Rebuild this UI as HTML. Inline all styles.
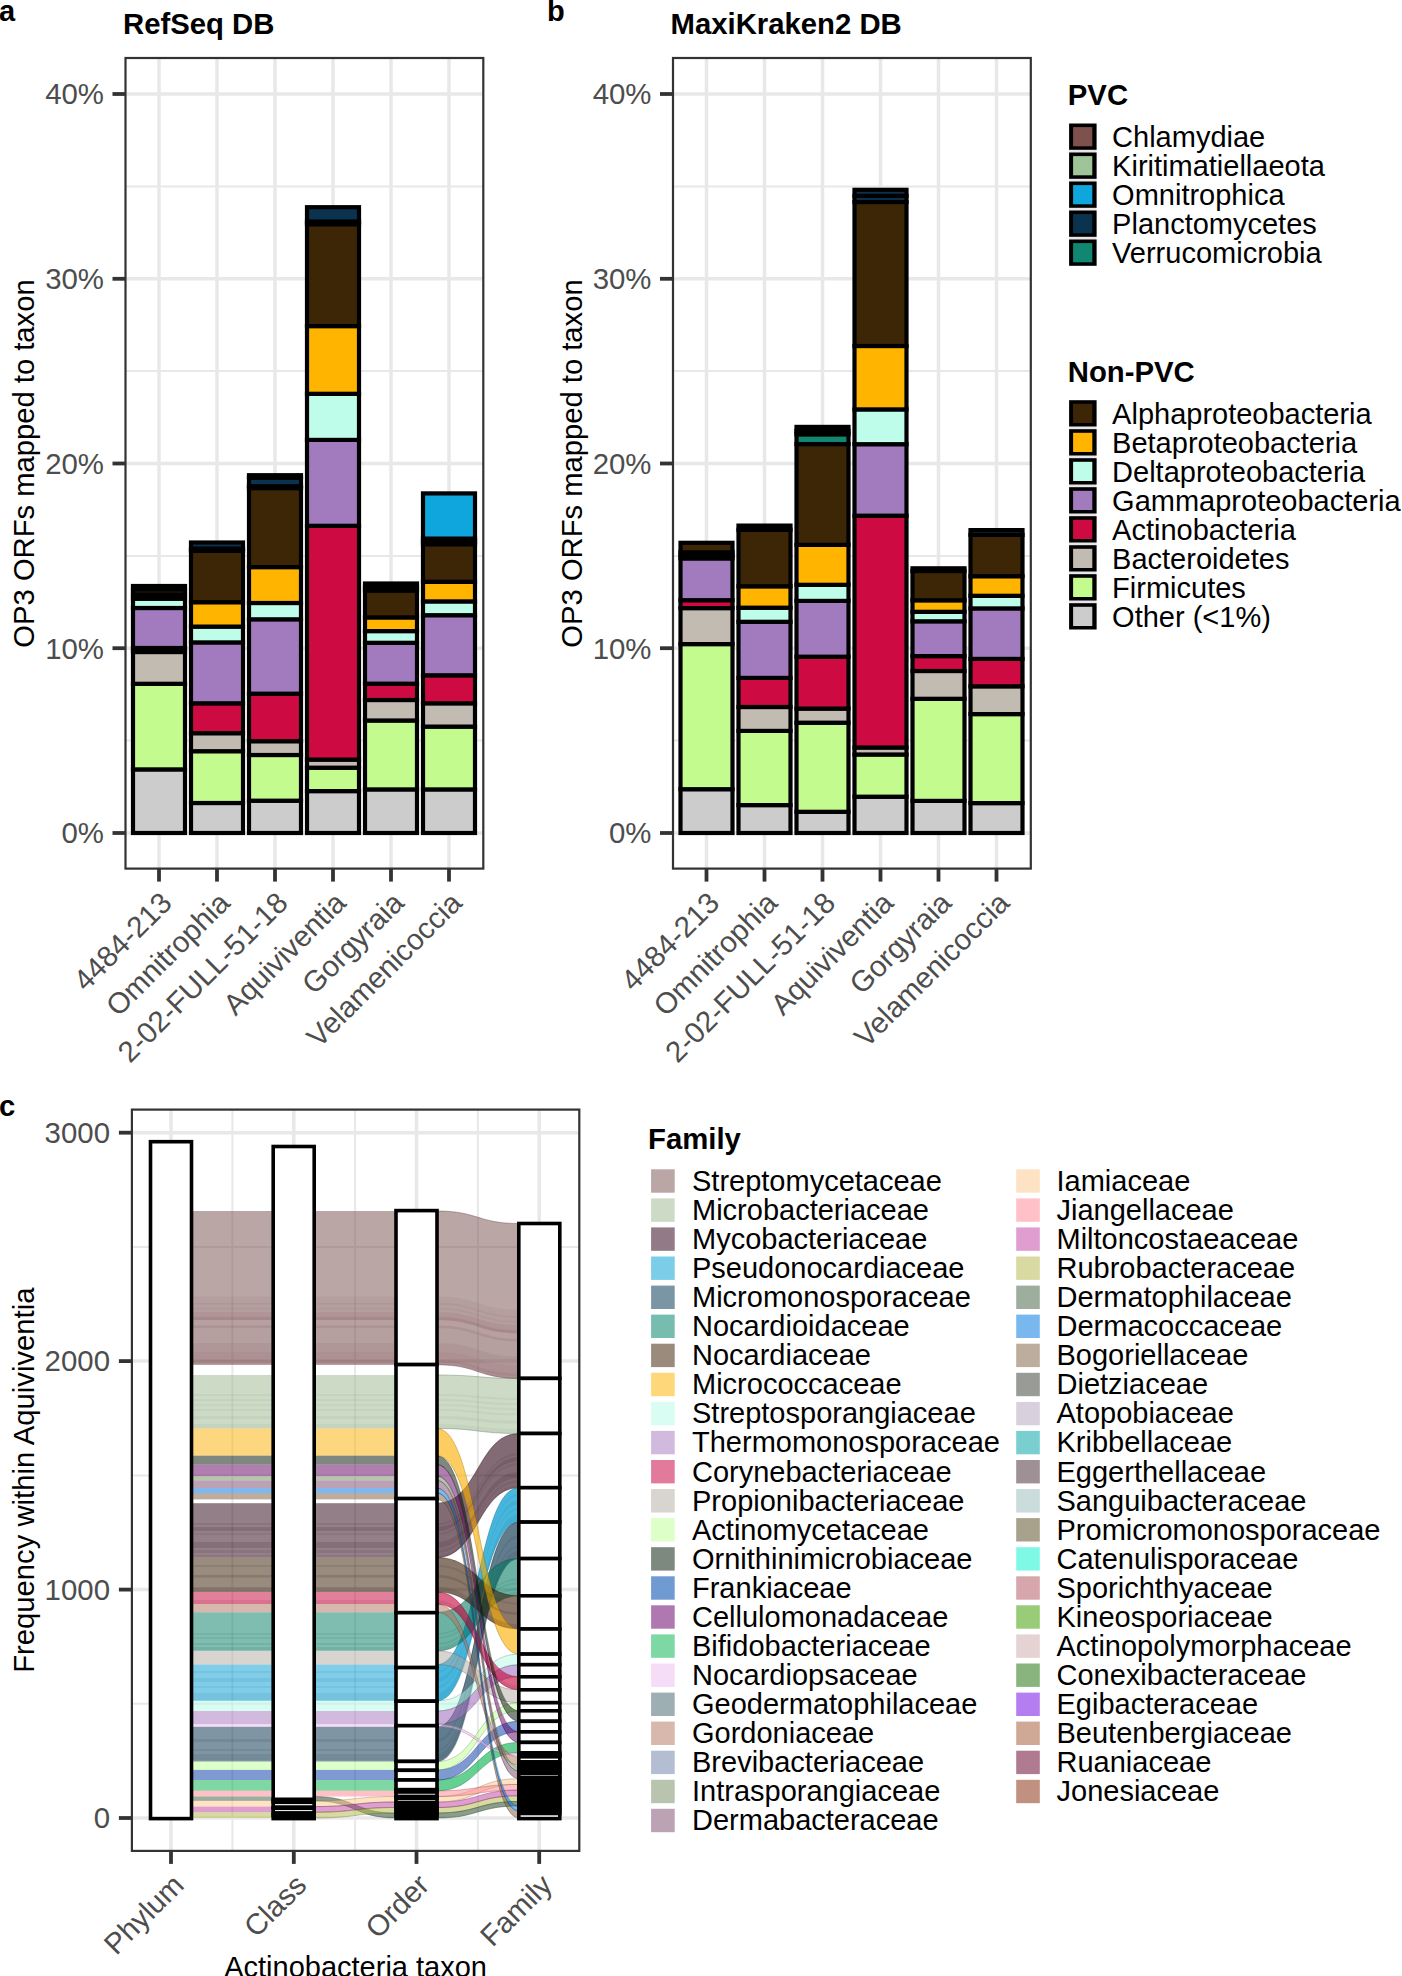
<!DOCTYPE html><html><head><meta charset="utf-8"><style>html,body{margin:0;padding:0;background:#fff;}svg{display:block}text{font-family:"Liberation Sans", sans-serif;}</style></head><body>
<svg width="1402" height="1976" viewBox="0 0 1402 1976">
<rect x="0" y="0" width="1402" height="1976" fill="#fff"/>
<g>
<line x1="125.5" y1="740.6" x2="483.3" y2="740.6" stroke="#E8E8E8" stroke-width="2"/>
<line x1="125.5" y1="555.9" x2="483.3" y2="555.9" stroke="#E8E8E8" stroke-width="2"/>
<line x1="125.5" y1="371.1" x2="483.3" y2="371.1" stroke="#E8E8E8" stroke-width="2"/>
<line x1="125.5" y1="186.4" x2="483.3" y2="186.4" stroke="#E8E8E8" stroke-width="2"/>
<line x1="125.5" y1="833.0" x2="483.3" y2="833.0" stroke="#E8E8E8" stroke-width="3.5"/>
<line x1="125.5" y1="648.2" x2="483.3" y2="648.2" stroke="#E8E8E8" stroke-width="3.5"/>
<line x1="125.5" y1="463.5" x2="483.3" y2="463.5" stroke="#E8E8E8" stroke-width="3.5"/>
<line x1="125.5" y1="278.8" x2="483.3" y2="278.8" stroke="#E8E8E8" stroke-width="3.5"/>
<line x1="125.5" y1="94.0" x2="483.3" y2="94.0" stroke="#E8E8E8" stroke-width="3.5"/>
<line x1="159.0" y1="58.0" x2="159.0" y2="868.6" stroke="#E8E8E8" stroke-width="3.5"/>
<line x1="217.0" y1="58.0" x2="217.0" y2="868.6" stroke="#E8E8E8" stroke-width="3.5"/>
<line x1="275.0" y1="58.0" x2="275.0" y2="868.6" stroke="#E8E8E8" stroke-width="3.5"/>
<line x1="333.0" y1="58.0" x2="333.0" y2="868.6" stroke="#E8E8E8" stroke-width="3.5"/>
<line x1="391.0" y1="58.0" x2="391.0" y2="868.6" stroke="#E8E8E8" stroke-width="3.5"/>
<line x1="449.0" y1="58.0" x2="449.0" y2="868.6" stroke="#E8E8E8" stroke-width="3.5"/>
</g>
<rect x="133.0" y="769.40" width="52" height="63.60" fill="#CCCCCC" stroke="#000" stroke-width="4.2"/>
<rect x="133.0" y="683.80" width="52" height="85.60" fill="#C4FB8E" stroke="#000" stroke-width="4.2"/>
<rect x="133.0" y="652.00" width="52" height="31.80" fill="#C2BBB2" stroke="#000" stroke-width="4.2"/>
<rect x="133.0" y="648.00" width="52" height="4.00" fill="#CD0A41" stroke="#000" stroke-width="4.2"/>
<rect x="133.0" y="608.00" width="52" height="40.00" fill="#A27BBF" stroke="#000" stroke-width="4.2"/>
<rect x="133.0" y="598.70" width="52" height="9.30" fill="#BEFDEA" stroke="#000" stroke-width="4.2"/>
<rect x="133.0" y="594.50" width="52" height="4.20" fill="#FFB400" stroke="#000" stroke-width="4.2"/>
<rect x="133.0" y="589.30" width="52" height="5.20" fill="#3D2606" stroke="#000" stroke-width="4.2"/>
<rect x="133.0" y="586.00" width="52" height="3.30" fill="#0B3350" stroke="#000" stroke-width="4.2"/>
<rect x="191.0" y="803.00" width="52" height="30.00" fill="#CCCCCC" stroke="#000" stroke-width="4.2"/>
<rect x="191.0" y="751.20" width="52" height="51.80" fill="#C4FB8E" stroke="#000" stroke-width="4.2"/>
<rect x="191.0" y="733.20" width="52" height="18.00" fill="#C2BBB2" stroke="#000" stroke-width="4.2"/>
<rect x="191.0" y="703.30" width="52" height="29.90" fill="#CD0A41" stroke="#000" stroke-width="4.2"/>
<rect x="191.0" y="642.40" width="52" height="60.90" fill="#A27BBF" stroke="#000" stroke-width="4.2"/>
<rect x="191.0" y="626.60" width="52" height="15.80" fill="#BEFDEA" stroke="#000" stroke-width="4.2"/>
<rect x="191.0" y="602.20" width="52" height="24.40" fill="#FFB400" stroke="#000" stroke-width="4.2"/>
<rect x="191.0" y="550.80" width="52" height="51.40" fill="#3D2606" stroke="#000" stroke-width="4.2"/>
<rect x="191.0" y="548.50" width="52" height="2.30" fill="#118670" stroke="#000" stroke-width="4.2"/>
<rect x="191.0" y="542.50" width="52" height="6.00" fill="#0B3350" stroke="#000" stroke-width="4.2"/>
<rect x="249.0" y="800.70" width="52" height="32.30" fill="#CCCCCC" stroke="#000" stroke-width="4.2"/>
<rect x="249.0" y="755.00" width="52" height="45.70" fill="#C4FB8E" stroke="#000" stroke-width="4.2"/>
<rect x="249.0" y="741.20" width="52" height="13.80" fill="#C2BBB2" stroke="#000" stroke-width="4.2"/>
<rect x="249.0" y="693.70" width="52" height="47.50" fill="#CD0A41" stroke="#000" stroke-width="4.2"/>
<rect x="249.0" y="619.30" width="52" height="74.40" fill="#A27BBF" stroke="#000" stroke-width="4.2"/>
<rect x="249.0" y="603.00" width="52" height="16.30" fill="#BEFDEA" stroke="#000" stroke-width="4.2"/>
<rect x="249.0" y="567.10" width="52" height="35.90" fill="#FFB400" stroke="#000" stroke-width="4.2"/>
<rect x="249.0" y="488.10" width="52" height="79.00" fill="#3D2606" stroke="#000" stroke-width="4.2"/>
<rect x="249.0" y="486.20" width="52" height="1.90" fill="#118670" stroke="#000" stroke-width="4.2"/>
<rect x="249.0" y="477.60" width="52" height="8.60" fill="#0B3350" stroke="#000" stroke-width="4.2"/>
<rect x="249.0" y="475.20" width="52" height="2.40" fill="#7E504E" stroke="#000" stroke-width="4.2"/>
<rect x="307.0" y="791.10" width="52" height="41.90" fill="#CCCCCC" stroke="#000" stroke-width="4.2"/>
<rect x="307.0" y="767.70" width="52" height="23.40" fill="#C4FB8E" stroke="#000" stroke-width="4.2"/>
<rect x="307.0" y="759.60" width="52" height="8.10" fill="#C2BBB2" stroke="#000" stroke-width="4.2"/>
<rect x="307.0" y="525.80" width="52" height="233.80" fill="#CD0A41" stroke="#000" stroke-width="4.2"/>
<rect x="307.0" y="439.90" width="52" height="85.90" fill="#A27BBF" stroke="#000" stroke-width="4.2"/>
<rect x="307.0" y="393.80" width="52" height="46.10" fill="#BEFDEA" stroke="#000" stroke-width="4.2"/>
<rect x="307.0" y="326.10" width="52" height="67.70" fill="#FFB400" stroke="#000" stroke-width="4.2"/>
<rect x="307.0" y="224.20" width="52" height="101.90" fill="#3D2606" stroke="#000" stroke-width="4.2"/>
<rect x="307.0" y="221.50" width="52" height="2.70" fill="#118670" stroke="#000" stroke-width="4.2"/>
<rect x="307.0" y="207.20" width="52" height="14.30" fill="#0B3350" stroke="#000" stroke-width="4.2"/>
<rect x="365.0" y="789.40" width="52" height="43.60" fill="#CCCCCC" stroke="#000" stroke-width="4.2"/>
<rect x="365.0" y="720.50" width="52" height="68.90" fill="#C4FB8E" stroke="#000" stroke-width="4.2"/>
<rect x="365.0" y="700.00" width="52" height="20.50" fill="#C2BBB2" stroke="#000" stroke-width="4.2"/>
<rect x="365.0" y="683.70" width="52" height="16.30" fill="#CD0A41" stroke="#000" stroke-width="4.2"/>
<rect x="365.0" y="642.80" width="52" height="40.90" fill="#A27BBF" stroke="#000" stroke-width="4.2"/>
<rect x="365.0" y="631.10" width="52" height="11.70" fill="#BEFDEA" stroke="#000" stroke-width="4.2"/>
<rect x="365.0" y="617.40" width="52" height="13.70" fill="#FFB400" stroke="#000" stroke-width="4.2"/>
<rect x="365.0" y="590.50" width="52" height="26.90" fill="#3D2606" stroke="#000" stroke-width="4.2"/>
<rect x="365.0" y="587.00" width="52" height="3.50" fill="#118670" stroke="#000" stroke-width="4.2"/>
<rect x="365.0" y="583.50" width="52" height="3.50" fill="#0B3350" stroke="#000" stroke-width="4.2"/>
<rect x="423.0" y="789.40" width="52" height="43.60" fill="#CCCCCC" stroke="#000" stroke-width="4.2"/>
<rect x="423.0" y="726.60" width="52" height="62.80" fill="#C4FB8E" stroke="#000" stroke-width="4.2"/>
<rect x="423.0" y="703.30" width="52" height="23.30" fill="#C2BBB2" stroke="#000" stroke-width="4.2"/>
<rect x="423.0" y="675.30" width="52" height="28.00" fill="#CD0A41" stroke="#000" stroke-width="4.2"/>
<rect x="423.0" y="615.20" width="52" height="60.10" fill="#A27BBF" stroke="#000" stroke-width="4.2"/>
<rect x="423.0" y="601.40" width="52" height="13.80" fill="#BEFDEA" stroke="#000" stroke-width="4.2"/>
<rect x="423.0" y="581.80" width="52" height="19.60" fill="#FFB400" stroke="#000" stroke-width="4.2"/>
<rect x="423.0" y="544.20" width="52" height="37.60" fill="#3D2606" stroke="#000" stroke-width="4.2"/>
<rect x="423.0" y="541.40" width="52" height="2.80" fill="#0B3350" stroke="#000" stroke-width="4.2"/>
<rect x="423.0" y="538.60" width="52" height="2.80" fill="#118670" stroke="#000" stroke-width="4.2"/>
<rect x="423.0" y="493.40" width="52" height="45.20" fill="#0EA6DD" stroke="#000" stroke-width="4.2"/>
<rect x="125.5" y="58.0" width="357.8" height="810.6" fill="none" stroke="#333333" stroke-width="2.2"/>
<line x1="112.5" y1="833.0" x2="125.5" y2="833.0" stroke="#333333" stroke-width="3.8"/>
<text x="104.0" y="843.3" font-size="29.4" fill="#4D4D4D" text-anchor="end">0%</text>
<line x1="112.5" y1="648.2" x2="125.5" y2="648.2" stroke="#333333" stroke-width="3.8"/>
<text x="104.0" y="658.5" font-size="29.4" fill="#4D4D4D" text-anchor="end">10%</text>
<line x1="112.5" y1="463.5" x2="125.5" y2="463.5" stroke="#333333" stroke-width="3.8"/>
<text x="104.0" y="473.8" font-size="29.4" fill="#4D4D4D" text-anchor="end">20%</text>
<line x1="112.5" y1="278.8" x2="125.5" y2="278.8" stroke="#333333" stroke-width="3.8"/>
<text x="104.0" y="289.1" font-size="29.4" fill="#4D4D4D" text-anchor="end">30%</text>
<line x1="112.5" y1="94.0" x2="125.5" y2="94.0" stroke="#333333" stroke-width="3.8"/>
<text x="104.0" y="104.3" font-size="29.4" fill="#4D4D4D" text-anchor="end">40%</text>
<line x1="159.0" y1="868.6" x2="159.0" y2="881.6" stroke="#333333" stroke-width="3.8"/>
<text transform="translate(173.5,904.6) rotate(-45)" font-size="29.4" fill="#4D4D4D" text-anchor="end">4484-213</text>
<line x1="217.0" y1="868.6" x2="217.0" y2="881.6" stroke="#333333" stroke-width="3.8"/>
<text transform="translate(231.5,904.6) rotate(-45)" font-size="29.4" fill="#4D4D4D" text-anchor="end">Omnitrophia</text>
<line x1="275.0" y1="868.6" x2="275.0" y2="881.6" stroke="#333333" stroke-width="3.8"/>
<text transform="translate(289.5,904.6) rotate(-45)" font-size="29.4" fill="#4D4D4D" text-anchor="end">2-02-FULL-51-18</text>
<line x1="333.0" y1="868.6" x2="333.0" y2="881.6" stroke="#333333" stroke-width="3.8"/>
<text transform="translate(347.5,904.6) rotate(-45)" font-size="29.4" fill="#4D4D4D" text-anchor="end">Aquiviventia</text>
<line x1="391.0" y1="868.6" x2="391.0" y2="881.6" stroke="#333333" stroke-width="3.8"/>
<text transform="translate(405.5,904.6) rotate(-45)" font-size="29.4" fill="#4D4D4D" text-anchor="end">Gorgyraia</text>
<line x1="449.0" y1="868.6" x2="449.0" y2="881.6" stroke="#333333" stroke-width="3.8"/>
<text transform="translate(463.5,904.6) rotate(-45)" font-size="29.4" fill="#4D4D4D" text-anchor="end">Velamenicoccia</text>
<text transform="translate(34,463.5) rotate(-90)" font-size="29.2" fill="#000" text-anchor="middle">OP3 ORFs mapped to taxon</text>
<text x="123" y="34" font-size="29.3" font-weight="bold" fill="#000">RefSeq DB</text>
<text x="-1" y="21" font-size="29" font-weight="bold" fill="#000">a</text>
<g>
<line x1="673.0" y1="740.6" x2="1030.8" y2="740.6" stroke="#E8E8E8" stroke-width="2"/>
<line x1="673.0" y1="555.9" x2="1030.8" y2="555.9" stroke="#E8E8E8" stroke-width="2"/>
<line x1="673.0" y1="371.1" x2="1030.8" y2="371.1" stroke="#E8E8E8" stroke-width="2"/>
<line x1="673.0" y1="186.4" x2="1030.8" y2="186.4" stroke="#E8E8E8" stroke-width="2"/>
<line x1="673.0" y1="833.0" x2="1030.8" y2="833.0" stroke="#E8E8E8" stroke-width="3.5"/>
<line x1="673.0" y1="648.2" x2="1030.8" y2="648.2" stroke="#E8E8E8" stroke-width="3.5"/>
<line x1="673.0" y1="463.5" x2="1030.8" y2="463.5" stroke="#E8E8E8" stroke-width="3.5"/>
<line x1="673.0" y1="278.8" x2="1030.8" y2="278.8" stroke="#E8E8E8" stroke-width="3.5"/>
<line x1="673.0" y1="94.0" x2="1030.8" y2="94.0" stroke="#E8E8E8" stroke-width="3.5"/>
<line x1="706.5" y1="58.0" x2="706.5" y2="868.6" stroke="#E8E8E8" stroke-width="3.5"/>
<line x1="764.5" y1="58.0" x2="764.5" y2="868.6" stroke="#E8E8E8" stroke-width="3.5"/>
<line x1="822.5" y1="58.0" x2="822.5" y2="868.6" stroke="#E8E8E8" stroke-width="3.5"/>
<line x1="880.5" y1="58.0" x2="880.5" y2="868.6" stroke="#E8E8E8" stroke-width="3.5"/>
<line x1="938.5" y1="58.0" x2="938.5" y2="868.6" stroke="#E8E8E8" stroke-width="3.5"/>
<line x1="996.5" y1="58.0" x2="996.5" y2="868.6" stroke="#E8E8E8" stroke-width="3.5"/>
</g>
<rect x="680.5" y="789.20" width="52" height="43.80" fill="#CCCCCC" stroke="#000" stroke-width="4.2"/>
<rect x="680.5" y="644.10" width="52" height="145.10" fill="#C4FB8E" stroke="#000" stroke-width="4.2"/>
<rect x="680.5" y="608.10" width="52" height="36.00" fill="#C2BBB2" stroke="#000" stroke-width="4.2"/>
<rect x="680.5" y="600.20" width="52" height="7.90" fill="#CD0A41" stroke="#000" stroke-width="4.2"/>
<rect x="680.5" y="558.40" width="52" height="41.80" fill="#A27BBF" stroke="#000" stroke-width="4.2"/>
<rect x="680.5" y="555.50" width="52" height="2.90" fill="#BEFDEA" stroke="#000" stroke-width="4.2"/>
<rect x="680.5" y="552.30" width="52" height="3.20" fill="#FFB400" stroke="#000" stroke-width="4.2"/>
<rect x="680.5" y="542.80" width="52" height="9.50" fill="#3D2606" stroke="#000" stroke-width="4.2"/>
<rect x="738.5" y="805.10" width="52" height="27.90" fill="#CCCCCC" stroke="#000" stroke-width="4.2"/>
<rect x="738.5" y="730.90" width="52" height="74.20" fill="#C4FB8E" stroke="#000" stroke-width="4.2"/>
<rect x="738.5" y="707.00" width="52" height="23.90" fill="#C2BBB2" stroke="#000" stroke-width="4.2"/>
<rect x="738.5" y="677.90" width="52" height="29.10" fill="#CD0A41" stroke="#000" stroke-width="4.2"/>
<rect x="738.5" y="621.80" width="52" height="56.10" fill="#A27BBF" stroke="#000" stroke-width="4.2"/>
<rect x="738.5" y="607.70" width="52" height="14.10" fill="#BEFDEA" stroke="#000" stroke-width="4.2"/>
<rect x="738.5" y="586.30" width="52" height="21.40" fill="#FFB400" stroke="#000" stroke-width="4.2"/>
<rect x="738.5" y="529.70" width="52" height="56.60" fill="#3D2606" stroke="#000" stroke-width="4.2"/>
<rect x="738.5" y="525.60" width="52" height="4.10" fill="#0B3350" stroke="#000" stroke-width="4.2"/>
<rect x="796.5" y="811.80" width="52" height="21.20" fill="#CCCCCC" stroke="#000" stroke-width="4.2"/>
<rect x="796.5" y="722.70" width="52" height="89.10" fill="#C4FB8E" stroke="#000" stroke-width="4.2"/>
<rect x="796.5" y="708.60" width="52" height="14.10" fill="#C2BBB2" stroke="#000" stroke-width="4.2"/>
<rect x="796.5" y="656.70" width="52" height="51.90" fill="#CD0A41" stroke="#000" stroke-width="4.2"/>
<rect x="796.5" y="600.90" width="52" height="55.80" fill="#A27BBF" stroke="#000" stroke-width="4.2"/>
<rect x="796.5" y="584.80" width="52" height="16.10" fill="#BEFDEA" stroke="#000" stroke-width="4.2"/>
<rect x="796.5" y="544.90" width="52" height="39.90" fill="#FFB400" stroke="#000" stroke-width="4.2"/>
<rect x="796.5" y="444.10" width="52" height="100.80" fill="#3D2606" stroke="#000" stroke-width="4.2"/>
<rect x="796.5" y="434.30" width="52" height="9.80" fill="#118670" stroke="#000" stroke-width="4.2"/>
<rect x="796.5" y="431.00" width="52" height="3.30" fill="#9FC497" stroke="#000" stroke-width="4.2"/>
<rect x="796.5" y="426.90" width="52" height="4.10" fill="#0B3350" stroke="#000" stroke-width="4.2"/>
<rect x="854.5" y="796.70" width="52" height="36.30" fill="#CCCCCC" stroke="#000" stroke-width="4.2"/>
<rect x="854.5" y="754.50" width="52" height="42.20" fill="#C4FB8E" stroke="#000" stroke-width="4.2"/>
<rect x="854.5" y="747.50" width="52" height="7.00" fill="#C2BBB2" stroke="#000" stroke-width="4.2"/>
<rect x="854.5" y="515.70" width="52" height="231.80" fill="#CD0A41" stroke="#000" stroke-width="4.2"/>
<rect x="854.5" y="444.20" width="52" height="71.50" fill="#A27BBF" stroke="#000" stroke-width="4.2"/>
<rect x="854.5" y="409.40" width="52" height="34.80" fill="#BEFDEA" stroke="#000" stroke-width="4.2"/>
<rect x="854.5" y="346.00" width="52" height="63.40" fill="#FFB400" stroke="#000" stroke-width="4.2"/>
<rect x="854.5" y="202.00" width="52" height="144.00" fill="#3D2606" stroke="#000" stroke-width="4.2"/>
<rect x="854.5" y="195.80" width="52" height="6.20" fill="#0B3350" stroke="#000" stroke-width="4.2"/>
<rect x="854.5" y="189.80" width="52" height="6.00" fill="#0B3350" stroke="#000" stroke-width="4.2"/>
<rect x="912.5" y="800.90" width="52" height="32.10" fill="#CCCCCC" stroke="#000" stroke-width="4.2"/>
<rect x="912.5" y="698.80" width="52" height="102.10" fill="#C4FB8E" stroke="#000" stroke-width="4.2"/>
<rect x="912.5" y="671.00" width="52" height="27.80" fill="#C2BBB2" stroke="#000" stroke-width="4.2"/>
<rect x="912.5" y="656.10" width="52" height="14.90" fill="#CD0A41" stroke="#000" stroke-width="4.2"/>
<rect x="912.5" y="621.30" width="52" height="34.80" fill="#A27BBF" stroke="#000" stroke-width="4.2"/>
<rect x="912.5" y="611.80" width="52" height="9.50" fill="#BEFDEA" stroke="#000" stroke-width="4.2"/>
<rect x="912.5" y="600.30" width="52" height="11.50" fill="#FFB400" stroke="#000" stroke-width="4.2"/>
<rect x="912.5" y="571.00" width="52" height="29.30" fill="#3D2606" stroke="#000" stroke-width="4.2"/>
<rect x="912.5" y="568.30" width="52" height="2.70" fill="#0B3350" stroke="#000" stroke-width="4.2"/>
<rect x="970.5" y="803.10" width="52" height="29.90" fill="#CCCCCC" stroke="#000" stroke-width="4.2"/>
<rect x="970.5" y="714.10" width="52" height="89.00" fill="#C4FB8E" stroke="#000" stroke-width="4.2"/>
<rect x="970.5" y="686.30" width="52" height="27.80" fill="#C2BBB2" stroke="#000" stroke-width="4.2"/>
<rect x="970.5" y="658.90" width="52" height="27.40" fill="#CD0A41" stroke="#000" stroke-width="4.2"/>
<rect x="970.5" y="608.40" width="52" height="50.50" fill="#A27BBF" stroke="#000" stroke-width="4.2"/>
<rect x="970.5" y="595.80" width="52" height="12.60" fill="#BEFDEA" stroke="#000" stroke-width="4.2"/>
<rect x="970.5" y="576.20" width="52" height="19.60" fill="#FFB400" stroke="#000" stroke-width="4.2"/>
<rect x="970.5" y="534.90" width="52" height="41.30" fill="#3D2606" stroke="#000" stroke-width="4.2"/>
<rect x="970.5" y="530.10" width="52" height="4.80" fill="#0B3350" stroke="#000" stroke-width="4.2"/>
<rect x="673.0" y="58.0" width="357.8" height="810.6" fill="none" stroke="#333333" stroke-width="2.2"/>
<line x1="660.0" y1="833.0" x2="673.0" y2="833.0" stroke="#333333" stroke-width="3.8"/>
<text x="651.5" y="843.3" font-size="29.4" fill="#4D4D4D" text-anchor="end">0%</text>
<line x1="660.0" y1="648.2" x2="673.0" y2="648.2" stroke="#333333" stroke-width="3.8"/>
<text x="651.5" y="658.5" font-size="29.4" fill="#4D4D4D" text-anchor="end">10%</text>
<line x1="660.0" y1="463.5" x2="673.0" y2="463.5" stroke="#333333" stroke-width="3.8"/>
<text x="651.5" y="473.8" font-size="29.4" fill="#4D4D4D" text-anchor="end">20%</text>
<line x1="660.0" y1="278.8" x2="673.0" y2="278.8" stroke="#333333" stroke-width="3.8"/>
<text x="651.5" y="289.1" font-size="29.4" fill="#4D4D4D" text-anchor="end">30%</text>
<line x1="660.0" y1="94.0" x2="673.0" y2="94.0" stroke="#333333" stroke-width="3.8"/>
<text x="651.5" y="104.3" font-size="29.4" fill="#4D4D4D" text-anchor="end">40%</text>
<line x1="706.5" y1="868.6" x2="706.5" y2="881.6" stroke="#333333" stroke-width="3.8"/>
<text transform="translate(721.0,904.6) rotate(-45)" font-size="29.4" fill="#4D4D4D" text-anchor="end">4484-213</text>
<line x1="764.5" y1="868.6" x2="764.5" y2="881.6" stroke="#333333" stroke-width="3.8"/>
<text transform="translate(779.0,904.6) rotate(-45)" font-size="29.4" fill="#4D4D4D" text-anchor="end">Omnitrophia</text>
<line x1="822.5" y1="868.6" x2="822.5" y2="881.6" stroke="#333333" stroke-width="3.8"/>
<text transform="translate(837.0,904.6) rotate(-45)" font-size="29.4" fill="#4D4D4D" text-anchor="end">2-02-FULL-51-18</text>
<line x1="880.5" y1="868.6" x2="880.5" y2="881.6" stroke="#333333" stroke-width="3.8"/>
<text transform="translate(895.0,904.6) rotate(-45)" font-size="29.4" fill="#4D4D4D" text-anchor="end">Aquiviventia</text>
<line x1="938.5" y1="868.6" x2="938.5" y2="881.6" stroke="#333333" stroke-width="3.8"/>
<text transform="translate(953.0,904.6) rotate(-45)" font-size="29.4" fill="#4D4D4D" text-anchor="end">Gorgyraia</text>
<line x1="996.5" y1="868.6" x2="996.5" y2="881.6" stroke="#333333" stroke-width="3.8"/>
<text transform="translate(1011.0,904.6) rotate(-45)" font-size="29.4" fill="#4D4D4D" text-anchor="end">Velamenicoccia</text>
<text transform="translate(581.5,463.5) rotate(-90)" font-size="29.2" fill="#000" text-anchor="middle">OP3 ORFs mapped to taxon</text>
<text x="670.5" y="34" font-size="29.3" font-weight="bold" fill="#000">MaxiKraken2 DB</text>
<text x="547" y="21" font-size="29" font-weight="bold" fill="#000">b</text>
<text x="1067.8" y="105" font-size="29.3" font-weight="bold" fill="#000">PVC</text>
<rect x="1069.1" y="149.5" width="27.4" height="116.0" fill="#E6E6E6"/>
<rect x="1069.1" y="123.5" width="27.5" height="26.3" fill="#000"/>
<rect x="1073.1" y="127.1" width="19.2" height="19.2" fill="#7E504E"/>
<text x="1112.1" y="147.0" font-size="29" fill="#000">Chlamydiae</text>
<rect x="1069.1" y="152.5" width="27.5" height="26.3" fill="#000"/>
<rect x="1073.1" y="156.1" width="19.2" height="19.2" fill="#9FC497"/>
<text x="1112.1" y="176.0" font-size="29" fill="#000">Kiritimatiellaeota</text>
<rect x="1069.1" y="181.5" width="27.5" height="26.3" fill="#000"/>
<rect x="1073.1" y="185.1" width="19.2" height="19.2" fill="#0EA6DD"/>
<text x="1112.1" y="205.0" font-size="29" fill="#000">Omnitrophica</text>
<rect x="1069.1" y="210.5" width="27.5" height="26.3" fill="#000"/>
<rect x="1073.1" y="214.1" width="19.2" height="19.2" fill="#0B3350"/>
<text x="1112.1" y="234.0" font-size="29" fill="#000">Planctomycetes</text>
<rect x="1069.1" y="239.5" width="27.5" height="26.3" fill="#000"/>
<rect x="1073.1" y="243.1" width="19.2" height="19.2" fill="#118670"/>
<text x="1112.1" y="263.0" font-size="29" fill="#000">Verrucomicrobia</text>
<text x="1067.8" y="382" font-size="29.3" font-weight="bold" fill="#000">Non-PVC</text>
<rect x="1069.1" y="426.2" width="27.4" height="203.0" fill="#E6E6E6"/>
<rect x="1069.1" y="400.2" width="27.5" height="26.3" fill="#000"/>
<rect x="1073.1" y="403.8" width="19.2" height="19.2" fill="#3D2606"/>
<text x="1112.1" y="423.7" font-size="29" fill="#000">Alphaproteobacteria</text>
<rect x="1069.1" y="429.2" width="27.5" height="26.3" fill="#000"/>
<rect x="1073.1" y="432.8" width="19.2" height="19.2" fill="#FFB400"/>
<text x="1112.1" y="452.7" font-size="29" fill="#000">Betaproteobacteria</text>
<rect x="1069.1" y="458.2" width="27.5" height="26.3" fill="#000"/>
<rect x="1073.1" y="461.8" width="19.2" height="19.2" fill="#BEFDEA"/>
<text x="1112.1" y="481.7" font-size="29" fill="#000">Deltaproteobacteria</text>
<rect x="1069.1" y="487.2" width="27.5" height="26.3" fill="#000"/>
<rect x="1073.1" y="490.8" width="19.2" height="19.2" fill="#A27BBF"/>
<text x="1112.1" y="510.7" font-size="29" fill="#000">Gammaproteobacteria</text>
<rect x="1069.1" y="516.2" width="27.5" height="26.3" fill="#000"/>
<rect x="1073.1" y="519.8" width="19.2" height="19.2" fill="#CD0A41"/>
<text x="1112.1" y="539.7" font-size="29" fill="#000">Actinobacteria</text>
<rect x="1069.1" y="545.2" width="27.5" height="26.3" fill="#000"/>
<rect x="1073.1" y="548.8" width="19.2" height="19.2" fill="#C2BBB2"/>
<text x="1112.1" y="568.7" font-size="29" fill="#000">Bacteroidetes</text>
<rect x="1069.1" y="574.2" width="27.5" height="26.3" fill="#000"/>
<rect x="1073.1" y="577.8" width="19.2" height="19.2" fill="#C4FB8E"/>
<text x="1112.1" y="597.7" font-size="29" fill="#000">Firmicutes</text>
<rect x="1069.1" y="603.2" width="27.5" height="26.3" fill="#000"/>
<rect x="1073.1" y="606.8" width="19.2" height="19.2" fill="#CCCCCC"/>
<text x="1112.1" y="626.7" font-size="29" fill="#000">Other (&lt;1%)</text>
<line x1="131.9" y1="1703.8" x2="579.3" y2="1703.8" stroke="#E8E8E8" stroke-width="2"/>
<line x1="131.9" y1="1475.4" x2="579.3" y2="1475.4" stroke="#E8E8E8" stroke-width="2"/>
<line x1="131.9" y1="1246.9" x2="579.3" y2="1246.9" stroke="#E8E8E8" stroke-width="2"/>
<line x1="232.4" y1="1109.6" x2="232.4" y2="1850.9" stroke="#E8E8E8" stroke-width="2"/>
<line x1="355.1" y1="1109.6" x2="355.1" y2="1850.9" stroke="#E8E8E8" stroke-width="2"/>
<line x1="477.9" y1="1109.6" x2="477.9" y2="1850.9" stroke="#E8E8E8" stroke-width="2"/>
<line x1="131.9" y1="1818.0" x2="579.3" y2="1818.0" stroke="#E8E8E8" stroke-width="3.5"/>
<line x1="131.9" y1="1589.6" x2="579.3" y2="1589.6" stroke="#E8E8E8" stroke-width="3.5"/>
<line x1="131.9" y1="1361.1" x2="579.3" y2="1361.1" stroke="#E8E8E8" stroke-width="3.5"/>
<line x1="131.9" y1="1132.7" x2="579.3" y2="1132.7" stroke="#E8E8E8" stroke-width="3.5"/>
<line x1="171.0" y1="1109.6" x2="171.0" y2="1850.9" stroke="#E8E8E8" stroke-width="3.5"/>
<line x1="293.8" y1="1109.6" x2="293.8" y2="1850.9" stroke="#E8E8E8" stroke-width="3.5"/>
<line x1="416.5" y1="1109.6" x2="416.5" y2="1850.9" stroke="#E8E8E8" stroke-width="3.5"/>
<line x1="539.2" y1="1109.6" x2="539.2" y2="1850.9" stroke="#E8E8E8" stroke-width="3.5"/>
<g>
<rect x="191.5" y="1211.0" width="81.8" height="153.8" fill="#754D4B" fill-opacity="0.5"/>
<rect x="314.2" y="1211.0" width="81.8" height="153.8" fill="#754D4B" fill-opacity="0.5"/>
<rect x="191.5" y="1375.0" width="81.8" height="53.5" fill="#9BB78D" fill-opacity="0.5"/>
<rect x="314.2" y="1375.0" width="81.8" height="53.5" fill="#9BB78D" fill-opacity="0.5"/>
<rect x="191.5" y="1428.5" width="81.8" height="27.2" fill="#FBAF00" fill-opacity="0.5"/>
<rect x="314.2" y="1428.5" width="81.8" height="27.2" fill="#FBAF00" fill-opacity="0.5"/>
<rect x="191.5" y="1455.7" width="81.8" height="8.9" fill="#001100" fill-opacity="0.5"/>
<rect x="314.2" y="1455.7" width="81.8" height="8.9" fill="#001100" fill-opacity="0.5"/>
<rect x="191.5" y="1464.6" width="81.8" height="11.4" fill="#610061" fill-opacity="0.5"/>
<rect x="314.2" y="1464.6" width="81.8" height="11.4" fill="#610061" fill-opacity="0.5"/>
<rect x="191.5" y="1476.0" width="81.8" height="4.4" fill="#71895B" fill-opacity="0.5"/>
<rect x="314.2" y="1476.0" width="81.8" height="4.4" fill="#71895B" fill-opacity="0.5"/>
<rect x="191.5" y="1480.4" width="81.8" height="7.6" fill="#77456B" fill-opacity="0.5"/>
<rect x="314.2" y="1480.4" width="81.8" height="7.6" fill="#77456B" fill-opacity="0.5"/>
<rect x="191.5" y="1488.0" width="81.8" height="5.0" fill="#0071DD" fill-opacity="0.5"/>
<rect x="314.2" y="1488.0" width="81.8" height="5.0" fill="#0071DD" fill-opacity="0.5"/>
<rect x="191.5" y="1493.0" width="81.8" height="6.4" fill="#795B3D" fill-opacity="0.5"/>
<rect x="314.2" y="1493.0" width="81.8" height="6.4" fill="#795B3D" fill-opacity="0.5"/>
<rect x="191.5" y="1503.2" width="81.8" height="54.4" fill="#27000F" fill-opacity="0.5"/>
<rect x="314.2" y="1503.2" width="81.8" height="54.4" fill="#27000F" fill-opacity="0.5"/>
<rect x="191.5" y="1557.6" width="81.8" height="34.4" fill="#351700" fill-opacity="0.5"/>
<rect x="314.2" y="1557.6" width="81.8" height="34.4" fill="#351700" fill-opacity="0.5"/>
<rect x="191.5" y="1592.0" width="81.8" height="12.0" fill="#C50037" fill-opacity="0.5"/>
<rect x="314.2" y="1592.0" width="81.8" height="12.0" fill="#C50037" fill-opacity="0.5"/>
<rect x="191.5" y="1604.0" width="81.8" height="8.3" fill="#B16F59" fill-opacity="0.5"/>
<rect x="314.2" y="1604.0" width="81.8" height="8.3" fill="#B16F59" fill-opacity="0.5"/>
<rect x="191.5" y="1612.3" width="81.8" height="38.6" fill="#007B61" fill-opacity="0.5"/>
<rect x="314.2" y="1612.3" width="81.8" height="38.6" fill="#007B61" fill-opacity="0.5"/>
<rect x="191.5" y="1650.9" width="81.8" height="13.7" fill="#B1A99F" fill-opacity="0.5"/>
<rect x="314.2" y="1650.9" width="81.8" height="13.7" fill="#B1A99F" fill-opacity="0.5"/>
<rect x="191.5" y="1664.6" width="81.8" height="36.3" fill="#009BD1" fill-opacity="0.5"/>
<rect x="314.2" y="1664.6" width="81.8" height="36.3" fill="#009BD1" fill-opacity="0.5"/>
<rect x="191.5" y="1700.9" width="81.8" height="10.1" fill="#B3F9E7" fill-opacity="0.5"/>
<rect x="314.2" y="1700.9" width="81.8" height="10.1" fill="#B3F9E7" fill-opacity="0.5"/>
<rect x="191.5" y="1711.0" width="81.8" height="13.3" fill="#A575BF" fill-opacity="0.5"/>
<rect x="314.2" y="1711.0" width="81.8" height="13.3" fill="#A575BF" fill-opacity="0.5"/>
<rect x="191.5" y="1724.3" width="81.8" height="2.5" fill="#EBBBF1" fill-opacity="0.5"/>
<rect x="314.2" y="1724.3" width="81.8" height="2.5" fill="#EBBBF1" fill-opacity="0.5"/>
<rect x="191.5" y="1726.8" width="81.8" height="34.8" fill="#002B47" fill-opacity="0.5"/>
<rect x="314.2" y="1726.8" width="81.8" height="34.8" fill="#002B47" fill-opacity="0.5"/>
<rect x="191.5" y="1761.6" width="81.8" height="8.3" fill="#BBFF91" fill-opacity="0.5"/>
<rect x="314.2" y="1761.6" width="81.8" height="8.3" fill="#BBFF91" fill-opacity="0.5"/>
<rect x="191.5" y="1769.9" width="81.8" height="10.1" fill="#0035A5" fill-opacity="0.5"/>
<rect x="314.2" y="1769.9" width="81.8" height="10.1" fill="#0035A5" fill-opacity="0.5"/>
<rect x="191.5" y="1780.0" width="81.8" height="10.8" fill="#00B149" fill-opacity="0.5"/>
<rect x="314.2" y="1780.0" width="81.8" height="10.8" fill="#00B149" fill-opacity="0.5"/>
<rect x="191.5" y="1790.8" width="81.8" height="5.7" fill="#FF8191" fill-opacity="0.5"/>
<rect x="314.2" y="1790.8" width="81.8" height="5.7" fill="#FF8191" fill-opacity="0.5"/>
<rect x="191.5" y="1796.5" width="81.8" height="4.4" fill="#3D5D3D" fill-opacity="0.5"/>
<path d="M314.2,1796.5 C355.1,1796.5 355.1,1813.0 396.0,1813.0 L396.0,1818.0 C355.1,1818.0 355.1,1800.9 314.2,1800.9 Z" fill="#3D5D3D" fill-opacity="0.6" stroke="#213321" stroke-opacity="0.35" stroke-width="1"/>
<rect x="191.5" y="1800.9" width="81.8" height="5.7" fill="#FBC789" fill-opacity="0.5"/>
<path d="M314.2,1800.9 C355.1,1800.9 355.1,1796.5 396.0,1796.5 L396.0,1802.0 C355.1,1802.0 355.1,1806.6 314.2,1806.6 Z" fill="#FBC789" fill-opacity="0.5" stroke="#8A6D4B" stroke-opacity="0.35" stroke-width="1"/>
<rect x="191.5" y="1806.6" width="81.8" height="5.7" fill="#C13DA1" fill-opacity="0.5"/>
<path d="M314.2,1806.6 C355.1,1806.6 355.1,1802.0 396.0,1802.0 L396.0,1807.5 C355.1,1807.5 355.1,1812.3 314.2,1812.3 Z" fill="#C13DA1" fill-opacity="0.5" stroke="#6A2158" stroke-opacity="0.35" stroke-width="1"/>
<rect x="191.5" y="1812.3" width="81.8" height="5.7" fill="#B1B545" fill-opacity="0.5"/>
<path d="M314.2,1812.3 C355.1,1812.3 355.1,1807.5 396.0,1807.5 L396.0,1813.0 C355.1,1813.0 355.1,1818.0 314.2,1818.0 Z" fill="#B1B545" fill-opacity="0.5" stroke="#616325" stroke-opacity="0.35" stroke-width="1"/>
<path d="M437.0,1807.5 C477.9,1807.5 477.9,1795.8 518.8,1795.8 L518.8,1801.5 C477.9,1801.5 477.9,1813.0 437.0,1813.0 Z" fill="#B1B545" fill-opacity="0.5" stroke="#616325" stroke-opacity="0.35" stroke-width="1"/>
<path d="M437.0,1802.0 C477.9,1802.0 477.9,1790.1 518.8,1790.1 L518.8,1795.8 C477.9,1795.8 477.9,1807.5 437.0,1807.5 Z" fill="#C13DA1" fill-opacity="0.5" stroke="#6A2158" stroke-opacity="0.35" stroke-width="1"/>
<path d="M437.0,1796.5 C477.9,1796.5 477.9,1778.7 518.8,1778.7 L518.8,1784.4 C477.9,1784.4 477.9,1802.0 437.0,1802.0 Z" fill="#FBC789" fill-opacity="0.5" stroke="#8A6D4B" stroke-opacity="0.35" stroke-width="1"/>
<path d="M437.0,1813.0 C477.9,1813.0 477.9,1801.5 518.8,1801.5 L518.8,1806.0 C477.9,1806.0 477.9,1818.0 437.0,1818.0 Z" fill="#3D5D3D" fill-opacity="0.6" stroke="#213321" stroke-opacity="0.35" stroke-width="1"/>
<path d="M437.0,1790.8 C477.9,1790.8 477.9,1784.4 518.8,1784.4 L518.8,1790.1 C477.9,1790.1 477.9,1796.5 437.0,1796.5 Z" fill="#FF8191" fill-opacity="0.5" stroke="#8C464F" stroke-opacity="0.35" stroke-width="1"/>
<path d="M437.0,1780.0 C477.9,1780.0 477.9,1742.4 518.8,1742.4 L518.8,1752.9 C477.9,1752.9 477.9,1790.8 437.0,1790.8 Z" fill="#00B149" fill-opacity="0.6" stroke="#006128" stroke-opacity="0.35" stroke-width="1"/>
<path d="M437.0,1769.9 C477.9,1769.9 477.9,1721.3 518.8,1721.3 L518.8,1731.9 C477.9,1731.9 477.9,1780.0 437.0,1780.0 Z" fill="#0035A5" fill-opacity="0.5" stroke="#001D5A" stroke-opacity="0.35" stroke-width="1"/>
<path d="M437.0,1761.6 C477.9,1761.6 477.9,1702.7 518.8,1702.7 L518.8,1710.8 C477.9,1710.8 477.9,1769.9 437.0,1769.9 Z" fill="#BBFF91" fill-opacity="0.5" stroke="#668C4F" stroke-opacity="0.35" stroke-width="1"/>
<path d="M437.0,1726.8 C477.9,1726.8 477.9,1522.1 518.8,1522.1 L518.8,1558.6 C477.9,1558.6 477.9,1761.6 437.0,1761.6 Z" fill="#002B47" fill-opacity="0.62" stroke="#001727" stroke-opacity="0.35" stroke-width="1"/>
<path d="M437.0,1724.3 C477.9,1724.3 477.9,1752.9 518.8,1752.9 L518.8,1755.4 C477.9,1755.4 477.9,1726.8 437.0,1726.8 Z" fill="#EBBBF1" fill-opacity="0.5" stroke="#816684" stroke-opacity="0.35" stroke-width="1"/>
<path d="M437.0,1711.0 C477.9,1711.0 477.9,1664.7 518.8,1664.7 L518.8,1676.8 C477.9,1676.8 477.9,1724.3 437.0,1724.3 Z" fill="#A575BF" fill-opacity="0.6" stroke="#5A4069" stroke-opacity="0.35" stroke-width="1"/>
<path d="M437.0,1700.9 C477.9,1700.9 477.9,1654.1 518.8,1654.1 L518.8,1664.7 C477.9,1664.7 477.9,1711.0 437.0,1711.0 Z" fill="#B3F9E7" fill-opacity="0.5" stroke="#62887F" stroke-opacity="0.35" stroke-width="1"/>
<path d="M437.0,1664.6 C477.9,1664.6 477.9,1487.7 518.8,1487.7 L518.8,1522.1 C477.9,1522.1 477.9,1700.9 437.0,1700.9 Z" fill="#009BD1" fill-opacity="0.72" stroke="#005572" stroke-opacity="0.35" stroke-width="1"/>
<path d="M437.0,1650.9 C477.9,1650.9 477.9,1689.8 518.8,1689.8 L518.8,1702.7 C477.9,1702.7 477.9,1664.6 437.0,1664.6 Z" fill="#B1A99F" fill-opacity="0.5" stroke="#615C57" stroke-opacity="0.35" stroke-width="1"/>
<path d="M437.0,1612.3 C477.9,1612.3 477.9,1558.6 518.8,1558.6 L518.8,1595.8 C477.9,1595.8 477.9,1650.9 437.0,1650.9 Z" fill="#007B61" fill-opacity="0.58" stroke="#004335" stroke-opacity="0.35" stroke-width="1"/>
<path d="M437.0,1604.0 C477.9,1604.0 477.9,1756.9 518.8,1756.9 L518.8,1765.2 C477.9,1765.2 477.9,1612.3 437.0,1612.3 Z" fill="#B16F59" fill-opacity="0.5" stroke="#613D30" stroke-opacity="0.35" stroke-width="1"/>
<path d="M437.0,1592.0 C477.9,1592.0 477.9,1676.8 518.8,1676.8 L518.8,1689.8 C477.9,1689.8 477.9,1604.0 437.0,1604.0 Z" fill="#C50037" fill-opacity="0.6" stroke="#6C001E" stroke-opacity="0.35" stroke-width="1"/>
<path d="M437.0,1557.6 C477.9,1557.6 477.9,1595.8 518.8,1595.8 L518.8,1629.0 C477.9,1629.0 477.9,1592.0 437.0,1592.0 Z" fill="#351700" fill-opacity="0.58" stroke="#1D0C00" stroke-opacity="0.35" stroke-width="1"/>
<path d="M437.0,1503.2 C477.9,1503.2 477.9,1433.5 518.8,1433.5 L518.8,1487.7 C477.9,1487.7 477.9,1557.6 437.0,1557.6 Z" fill="#27000F" fill-opacity="0.58" stroke="#150008" stroke-opacity="0.35" stroke-width="1"/>
<path d="M437.0,1493.0 C477.9,1493.0 477.9,1811.0 518.8,1811.0 L518.8,1818.0 C477.9,1818.0 477.9,1499.4 437.0,1499.4 Z" fill="#795B3D" fill-opacity="0.5" stroke="#423221" stroke-opacity="0.35" stroke-width="1"/>
<path d="M437.0,1488.0 C477.9,1488.0 477.9,1806.0 518.8,1806.0 L518.8,1811.0 C477.9,1811.0 477.9,1493.0 437.0,1493.0 Z" fill="#0071DD" fill-opacity="0.5" stroke="#003E79" stroke-opacity="0.35" stroke-width="1"/>
<path d="M437.0,1480.4 C477.9,1480.4 477.9,1771.1 518.8,1771.1 L518.8,1778.7 C477.9,1778.7 477.9,1488.0 437.0,1488.0 Z" fill="#77456B" fill-opacity="0.5" stroke="#41253A" stroke-opacity="0.35" stroke-width="1"/>
<path d="M437.0,1476.0 C477.9,1476.0 477.9,1766.7 518.8,1766.7 L518.8,1771.1 C477.9,1771.1 477.9,1480.4 437.0,1480.4 Z" fill="#71895B" fill-opacity="0.5" stroke="#3E4B32" stroke-opacity="0.35" stroke-width="1"/>
<path d="M437.0,1464.6 C477.9,1464.6 477.9,1731.9 518.8,1731.9 L518.8,1742.4 C477.9,1742.4 477.9,1476.0 437.0,1476.0 Z" fill="#610061" fill-opacity="0.5" stroke="#350035" stroke-opacity="0.35" stroke-width="1"/>
<path d="M437.0,1455.7 C477.9,1455.7 477.9,1710.8 518.8,1710.8 L518.8,1721.3 C477.9,1721.3 477.9,1464.6 437.0,1464.6 Z" fill="#001100" fill-opacity="0.5" stroke="#000900" stroke-opacity="0.35" stroke-width="1"/>
<path d="M437.0,1428.5 C477.9,1428.5 477.9,1629.0 518.8,1629.0 L518.8,1654.1 C477.9,1654.1 477.9,1455.7 437.0,1455.7 Z" fill="#FBAF00" fill-opacity="0.62" stroke="#8A6000" stroke-opacity="0.35" stroke-width="1"/>
<path d="M437.0,1375.0 C477.9,1375.0 477.9,1378.4 518.8,1378.4 L518.8,1433.5 C477.9,1433.5 477.9,1428.5 437.0,1428.5 Z" fill="#9BB78D" fill-opacity="0.5" stroke="#55644D" stroke-opacity="0.35" stroke-width="1"/>
<path d="M437.0,1211.0 C477.9,1211.0 477.9,1223.5 518.8,1223.5 L518.8,1378.4 C477.9,1378.4 477.9,1364.8 437.0,1364.8 Z" fill="#754D4B" fill-opacity="0.5" stroke="#402A29" stroke-opacity="0.35" stroke-width="1"/>
<rect x="191.5" y="1296.50" width="81.8" height="15.50" fill="#7A3E48" fill-opacity="0.07"/>
<rect x="314.2" y="1296.50" width="81.8" height="15.50" fill="#7A3E48" fill-opacity="0.07"/>
<path d="M437.0,1296.50 C477.9,1296.50 477.9,1309.61 518.8,1309.61 L518.8,1325.22 C477.9,1325.22 477.9,1312.00 437.0,1312.00 Z" fill="#7A3E48" fill-opacity="0.07"/>
<rect x="191.5" y="1303.00" width="81.8" height="1.50" fill="#7A3E48" fill-opacity="0.08"/>
<rect x="314.2" y="1303.00" width="81.8" height="1.50" fill="#7A3E48" fill-opacity="0.08"/>
<path d="M437.0,1303.00 C477.9,1303.00 477.9,1316.16 518.8,1316.16 L518.8,1317.67 C477.9,1317.67 477.9,1304.50 437.0,1304.50 Z" fill="#7A3E48" fill-opacity="0.08"/>
<rect x="191.5" y="1308.00" width="81.8" height="1.50" fill="#7A3E48" fill-opacity="0.06"/>
<rect x="314.2" y="1308.00" width="81.8" height="1.50" fill="#7A3E48" fill-opacity="0.06"/>
<path d="M437.0,1308.00 C477.9,1308.00 477.9,1321.19 518.8,1321.19 L518.8,1322.70 C477.9,1322.70 477.9,1309.50 437.0,1309.50 Z" fill="#7A3E48" fill-opacity="0.06"/>
<rect x="191.5" y="1312.00" width="81.8" height="5.00" fill="#7A3E48" fill-opacity="0.16"/>
<rect x="314.2" y="1312.00" width="81.8" height="5.00" fill="#7A3E48" fill-opacity="0.16"/>
<path d="M437.0,1312.00 C477.9,1312.00 477.9,1325.22 518.8,1325.22 L518.8,1330.26 C477.9,1330.26 477.9,1317.00 437.0,1317.00 Z" fill="#7A3E48" fill-opacity="0.16"/>
<rect x="191.5" y="1317.00" width="81.8" height="3.00" fill="#7A3E48" fill-opacity="0.28"/>
<rect x="314.2" y="1317.00" width="81.8" height="3.00" fill="#7A3E48" fill-opacity="0.28"/>
<path d="M437.0,1317.00 C477.9,1317.00 477.9,1330.26 518.8,1330.26 L518.8,1333.28 C477.9,1333.28 477.9,1320.00 437.0,1320.00 Z" fill="#7A3E48" fill-opacity="0.28"/>
<rect x="191.5" y="1320.00" width="81.8" height="5.50" fill="#7A3E48" fill-opacity="0.05"/>
<rect x="314.2" y="1320.00" width="81.8" height="5.50" fill="#7A3E48" fill-opacity="0.05"/>
<path d="M437.0,1320.00 C477.9,1320.00 477.9,1333.28 518.8,1333.28 L518.8,1338.82 C477.9,1338.82 477.9,1325.50 437.0,1325.50 Z" fill="#7A3E48" fill-opacity="0.05"/>
<rect x="191.5" y="1325.50" width="81.8" height="2.50" fill="#7A3E48" fill-opacity="0.18"/>
<rect x="314.2" y="1325.50" width="81.8" height="2.50" fill="#7A3E48" fill-opacity="0.18"/>
<path d="M437.0,1325.50 C477.9,1325.50 477.9,1338.82 518.8,1338.82 L518.8,1341.34 C477.9,1341.34 477.9,1328.00 437.0,1328.00 Z" fill="#7A3E48" fill-opacity="0.18"/>
<rect x="191.5" y="1328.00" width="81.8" height="15.00" fill="#7A3E48" fill-opacity="0.06"/>
<rect x="314.2" y="1328.00" width="81.8" height="15.00" fill="#7A3E48" fill-opacity="0.06"/>
<path d="M437.0,1328.00 C477.9,1328.00 477.9,1341.34 518.8,1341.34 L518.8,1356.44 C477.9,1356.44 477.9,1343.00 437.0,1343.00 Z" fill="#7A3E48" fill-opacity="0.06"/>
<rect x="191.5" y="1343.00" width="81.8" height="9.00" fill="#7A3E48" fill-opacity="0.14"/>
<rect x="314.2" y="1343.00" width="81.8" height="9.00" fill="#7A3E48" fill-opacity="0.14"/>
<path d="M437.0,1343.00 C477.9,1343.00 477.9,1356.44 518.8,1356.44 L518.8,1365.51 C477.9,1365.51 477.9,1352.00 437.0,1352.00 Z" fill="#7A3E48" fill-opacity="0.14"/>
<rect x="191.5" y="1352.00" width="81.8" height="8.00" fill="#7A3E48" fill-opacity="0.2"/>
<rect x="314.2" y="1352.00" width="81.8" height="8.00" fill="#7A3E48" fill-opacity="0.2"/>
<path d="M437.0,1352.00 C477.9,1352.00 477.9,1365.51 518.8,1365.51 L518.8,1373.57 C477.9,1373.57 477.9,1360.00 437.0,1360.00 Z" fill="#7A3E48" fill-opacity="0.2"/>
<rect x="191.5" y="1360.00" width="81.8" height="2.50" fill="#7A3E48" fill-opacity="0.3"/>
<rect x="314.2" y="1360.00" width="81.8" height="2.50" fill="#7A3E48" fill-opacity="0.3"/>
<path d="M437.0,1360.00 C477.9,1360.00 477.9,1373.57 518.8,1373.57 L518.8,1376.08 C477.9,1376.08 477.9,1362.50 437.0,1362.50 Z" fill="#7A3E48" fill-opacity="0.3"/>
<rect x="191.5" y="1362.50" width="81.8" height="2.30" fill="#7A3E48" fill-opacity="0.22"/>
<rect x="314.2" y="1362.50" width="81.8" height="2.30" fill="#7A3E48" fill-opacity="0.22"/>
<path d="M437.0,1362.50 C477.9,1362.50 477.9,1376.08 518.8,1376.08 L518.8,1378.40 C477.9,1378.40 477.9,1364.80 437.0,1364.80 Z" fill="#7A3E48" fill-opacity="0.22"/>
<rect x="191.5" y="1394.00" width="81.8" height="2.00" fill="#3F5A3A" fill-opacity="0.06"/>
<rect x="314.2" y="1394.00" width="81.8" height="2.00" fill="#3F5A3A" fill-opacity="0.06"/>
<path d="M437.0,1394.00 C477.9,1394.00 477.9,1397.97 518.8,1397.97 L518.8,1400.03 C477.9,1400.03 477.9,1396.00 437.0,1396.00 Z" fill="#3F5A3A" fill-opacity="0.06"/>
<rect x="191.5" y="1399.00" width="81.8" height="2.00" fill="#3F5A3A" fill-opacity="0.06"/>
<rect x="314.2" y="1399.00" width="81.8" height="2.00" fill="#3F5A3A" fill-opacity="0.06"/>
<path d="M437.0,1399.00 C477.9,1399.00 477.9,1403.12 518.8,1403.12 L518.8,1405.18 C477.9,1405.18 477.9,1401.00 437.0,1401.00 Z" fill="#3F5A3A" fill-opacity="0.06"/>
<rect x="191.5" y="1404.00" width="81.8" height="2.00" fill="#3F5A3A" fill-opacity="0.05"/>
<rect x="314.2" y="1404.00" width="81.8" height="2.00" fill="#3F5A3A" fill-opacity="0.05"/>
<path d="M437.0,1404.00 C477.9,1404.00 477.9,1408.27 518.8,1408.27 L518.8,1410.33 C477.9,1410.33 477.9,1406.00 437.0,1406.00 Z" fill="#3F5A3A" fill-opacity="0.05"/>
<rect x="191.5" y="1409.00" width="81.8" height="2.00" fill="#3F5A3A" fill-opacity="0.06"/>
<rect x="314.2" y="1409.00" width="81.8" height="2.00" fill="#3F5A3A" fill-opacity="0.06"/>
<path d="M437.0,1409.00 C477.9,1409.00 477.9,1413.42 518.8,1413.42 L518.8,1415.48 C477.9,1415.48 477.9,1411.00 437.0,1411.00 Z" fill="#3F5A3A" fill-opacity="0.06"/>
<rect x="191.5" y="1416.00" width="81.8" height="3.00" fill="#3F5A3A" fill-opacity="0.06"/>
<rect x="314.2" y="1416.00" width="81.8" height="3.00" fill="#3F5A3A" fill-opacity="0.06"/>
<path d="M437.0,1416.00 C477.9,1416.00 477.9,1420.63 518.8,1420.63 L518.8,1423.72 C477.9,1423.72 477.9,1419.00 437.0,1419.00 Z" fill="#3F5A3A" fill-opacity="0.06"/>
<rect x="191.5" y="1424.00" width="81.8" height="4.50" fill="#3F5A3A" fill-opacity="0.05"/>
<rect x="314.2" y="1424.00" width="81.8" height="4.50" fill="#3F5A3A" fill-opacity="0.05"/>
<path d="M437.0,1424.00 C477.9,1424.00 477.9,1428.87 518.8,1428.87 L518.8,1433.50 C477.9,1433.50 477.9,1428.50 437.0,1428.50 Z" fill="#3F5A3A" fill-opacity="0.05"/>
<rect x="191.5" y="1523.00" width="81.8" height="2.00" fill="#4A2838" fill-opacity="0.12"/>
<rect x="314.2" y="1523.00" width="81.8" height="2.00" fill="#4A2838" fill-opacity="0.12"/>
<path d="M437.0,1523.00 C477.9,1523.00 477.9,1453.23 518.8,1453.23 L518.8,1455.22 C477.9,1455.22 477.9,1525.00 437.0,1525.00 Z" fill="#4A2838" fill-opacity="0.12"/>
<rect x="191.5" y="1527.00" width="81.8" height="4.00" fill="#4A2838" fill-opacity="0.2"/>
<rect x="314.2" y="1527.00" width="81.8" height="4.00" fill="#4A2838" fill-opacity="0.2"/>
<path d="M437.0,1527.00 C477.9,1527.00 477.9,1457.21 518.8,1457.21 L518.8,1461.20 C477.9,1461.20 477.9,1531.00 437.0,1531.00 Z" fill="#4A2838" fill-opacity="0.2"/>
<rect x="191.5" y="1533.00" width="81.8" height="2.00" fill="#4A2838" fill-opacity="0.1"/>
<rect x="314.2" y="1533.00" width="81.8" height="2.00" fill="#4A2838" fill-opacity="0.1"/>
<path d="M437.0,1533.00 C477.9,1533.00 477.9,1463.19 518.8,1463.19 L518.8,1465.18 C477.9,1465.18 477.9,1535.00 437.0,1535.00 Z" fill="#4A2838" fill-opacity="0.1"/>
<rect x="191.5" y="1542.00" width="81.8" height="6.00" fill="#4A2838" fill-opacity="0.18"/>
<rect x="314.2" y="1542.00" width="81.8" height="6.00" fill="#4A2838" fill-opacity="0.18"/>
<path d="M437.0,1542.00 C477.9,1542.00 477.9,1472.16 518.8,1472.16 L518.8,1478.14 C477.9,1478.14 477.9,1548.00 437.0,1548.00 Z" fill="#4A2838" fill-opacity="0.18"/>
<rect x="191.5" y="1550.00" width="81.8" height="3.00" fill="#4A2838" fill-opacity="0.12"/>
<rect x="314.2" y="1550.00" width="81.8" height="3.00" fill="#4A2838" fill-opacity="0.12"/>
<path d="M437.0,1550.00 C477.9,1550.00 477.9,1480.13 518.8,1480.13 L518.8,1483.12 C477.9,1483.12 477.9,1553.00 437.0,1553.00 Z" fill="#4A2838" fill-opacity="0.12"/>
<rect x="191.5" y="1555.00" width="81.8" height="2.60" fill="#4A2838" fill-opacity="0.1"/>
<rect x="314.2" y="1555.00" width="81.8" height="2.60" fill="#4A2838" fill-opacity="0.1"/>
<path d="M437.0,1555.00 C477.9,1555.00 477.9,1485.11 518.8,1485.11 L518.8,1487.70 C477.9,1487.70 477.9,1557.60 437.0,1557.60 Z" fill="#4A2838" fill-opacity="0.1"/>
<rect x="191.5" y="1565.00" width="81.8" height="2.00" fill="#3A2A2E" fill-opacity="0.12"/>
<rect x="314.2" y="1565.00" width="81.8" height="2.00" fill="#3A2A2E" fill-opacity="0.12"/>
<path d="M437.0,1565.00 C477.9,1565.00 477.9,1602.94 518.8,1602.94 L518.8,1604.87 C477.9,1604.87 477.9,1567.00 437.0,1567.00 Z" fill="#3A2A2E" fill-opacity="0.12"/>
<rect x="191.5" y="1575.00" width="81.8" height="2.50" fill="#3A2A2E" fill-opacity="0.18"/>
<rect x="314.2" y="1575.00" width="81.8" height="2.50" fill="#3A2A2E" fill-opacity="0.18"/>
<path d="M437.0,1575.00 C477.9,1575.00 477.9,1612.59 518.8,1612.59 L518.8,1615.01 C477.9,1615.01 477.9,1577.50 437.0,1577.50 Z" fill="#3A2A2E" fill-opacity="0.18"/>
<rect x="191.5" y="1587.00" width="81.8" height="5.00" fill="#3A2A2E" fill-opacity="0.15"/>
<rect x="314.2" y="1587.00" width="81.8" height="5.00" fill="#3A2A2E" fill-opacity="0.15"/>
<path d="M437.0,1587.00 C477.9,1587.00 477.9,1624.17 518.8,1624.17 L518.8,1629.00 C477.9,1629.00 477.9,1592.00 437.0,1592.00 Z" fill="#3A2A2E" fill-opacity="0.15"/>
<rect x="191.5" y="1633.00" width="81.8" height="2.00" fill="#1E5E55" fill-opacity="0.1"/>
<rect x="314.2" y="1633.00" width="81.8" height="2.00" fill="#1E5E55" fill-opacity="0.1"/>
<path d="M437.0,1633.00 C477.9,1633.00 477.9,1578.55 518.8,1578.55 L518.8,1580.48 C477.9,1580.48 477.9,1635.00 437.0,1635.00 Z" fill="#1E5E55" fill-opacity="0.1"/>
<rect x="191.5" y="1637.00" width="81.8" height="2.00" fill="#1E5E55" fill-opacity="0.1"/>
<rect x="314.2" y="1637.00" width="81.8" height="2.00" fill="#1E5E55" fill-opacity="0.1"/>
<path d="M437.0,1637.00 C477.9,1637.00 477.9,1582.40 518.8,1582.40 L518.8,1584.33 C477.9,1584.33 477.9,1639.00 437.0,1639.00 Z" fill="#1E5E55" fill-opacity="0.1"/>
<rect x="191.5" y="1643.00" width="81.8" height="2.00" fill="#1E5E55" fill-opacity="0.12"/>
<rect x="314.2" y="1643.00" width="81.8" height="2.00" fill="#1E5E55" fill-opacity="0.12"/>
<path d="M437.0,1643.00 C477.9,1643.00 477.9,1588.19 518.8,1588.19 L518.8,1590.11 C477.9,1590.11 477.9,1645.00 437.0,1645.00 Z" fill="#1E5E55" fill-opacity="0.12"/>
<rect x="191.5" y="1647.00" width="81.8" height="3.00" fill="#1E5E55" fill-opacity="0.12"/>
<rect x="314.2" y="1647.00" width="81.8" height="3.00" fill="#1E5E55" fill-opacity="0.12"/>
<path d="M437.0,1647.00 C477.9,1647.00 477.9,1592.04 518.8,1592.04 L518.8,1594.93 C477.9,1594.93 477.9,1650.00 437.0,1650.00 Z" fill="#1E5E55" fill-opacity="0.12"/>
<rect x="191.5" y="1671.00" width="81.8" height="2.00" fill="#0A5F88" fill-opacity="0.08"/>
<rect x="314.2" y="1671.00" width="81.8" height="2.00" fill="#0A5F88" fill-opacity="0.08"/>
<path d="M437.0,1671.00 C477.9,1671.00 477.9,1493.77 518.8,1493.77 L518.8,1495.66 C477.9,1495.66 477.9,1673.00 437.0,1673.00 Z" fill="#0A5F88" fill-opacity="0.08"/>
<rect x="191.5" y="1678.00" width="81.8" height="4.00" fill="#0A5F88" fill-opacity="0.1"/>
<rect x="314.2" y="1678.00" width="81.8" height="4.00" fill="#0A5F88" fill-opacity="0.1"/>
<path d="M437.0,1678.00 C477.9,1678.00 477.9,1500.40 518.8,1500.40 L518.8,1504.19 C477.9,1504.19 477.9,1682.00 437.0,1682.00 Z" fill="#0A5F88" fill-opacity="0.1"/>
<rect x="191.5" y="1686.00" width="81.8" height="2.00" fill="#0A5F88" fill-opacity="0.08"/>
<rect x="314.2" y="1686.00" width="81.8" height="2.00" fill="#0A5F88" fill-opacity="0.08"/>
<path d="M437.0,1686.00 C477.9,1686.00 477.9,1507.98 518.8,1507.98 L518.8,1509.88 C477.9,1509.88 477.9,1688.00 437.0,1688.00 Z" fill="#0A5F88" fill-opacity="0.08"/>
<rect x="191.5" y="1693.00" width="81.8" height="7.00" fill="#0A5F88" fill-opacity="0.1"/>
<rect x="314.2" y="1693.00" width="81.8" height="7.00" fill="#0A5F88" fill-opacity="0.1"/>
<path d="M437.0,1693.00 C477.9,1693.00 477.9,1514.61 518.8,1514.61 L518.8,1521.25 C477.9,1521.25 477.9,1700.00 437.0,1700.00 Z" fill="#0A5F88" fill-opacity="0.1"/>
<rect x="191.5" y="1739.00" width="81.8" height="3.00" fill="#2A4A58" fill-opacity="0.15"/>
<rect x="314.2" y="1739.00" width="81.8" height="3.00" fill="#2A4A58" fill-opacity="0.15"/>
<path d="M437.0,1739.00 C477.9,1739.00 477.9,1534.90 518.8,1534.90 L518.8,1538.04 C477.9,1538.04 477.9,1742.00 437.0,1742.00 Z" fill="#2A4A58" fill-opacity="0.15"/>
<rect x="191.5" y="1749.00" width="81.8" height="2.00" fill="#2A4A58" fill-opacity="0.12"/>
<rect x="314.2" y="1749.00" width="81.8" height="2.00" fill="#2A4A58" fill-opacity="0.12"/>
<path d="M437.0,1749.00 C477.9,1749.00 477.9,1545.38 518.8,1545.38 L518.8,1547.48 C477.9,1547.48 477.9,1751.00 437.0,1751.00 Z" fill="#2A4A58" fill-opacity="0.12"/>
<rect x="191.5" y="1754.00" width="81.8" height="6.00" fill="#2A4A58" fill-opacity="0.14"/>
<rect x="314.2" y="1754.00" width="81.8" height="6.00" fill="#2A4A58" fill-opacity="0.14"/>
<path d="M437.0,1754.00 C477.9,1754.00 477.9,1550.63 518.8,1550.63 L518.8,1556.92 C477.9,1556.92 477.9,1760.00 437.0,1760.00 Z" fill="#2A4A58" fill-opacity="0.14"/>
<rect x="191.5" y="1600.00" width="81.8" height="4.00" fill="#A01040" fill-opacity="0.12"/>
<rect x="314.2" y="1600.00" width="81.8" height="4.00" fill="#A01040" fill-opacity="0.12"/>
<path d="M437.0,1600.00 C477.9,1600.00 477.9,1685.47 518.8,1685.47 L518.8,1689.80 C477.9,1689.80 477.9,1604.00 437.0,1604.00 Z" fill="#A01040" fill-opacity="0.12"/>
</g>
<rect x="150.5" y="1141.7" width="41.0" height="676.9" fill="#fff" stroke="#000" stroke-width="3.6"/>
<rect x="273.2" y="1146.5" width="41.0" height="653.0" fill="#fff" stroke="#000" stroke-width="3.6"/>
<rect x="273.2" y="1799.5" width="41.0" height="2.8" fill="#fff" stroke="#000" stroke-width="3.6"/>
<rect x="273.2" y="1802.3" width="41.0" height="5.0" fill="#fff" stroke="#000" stroke-width="3.6"/>
<rect x="273.2" y="1807.3" width="41.0" height="1.0" fill="#fff" stroke="#000" stroke-width="3.6"/>
<rect x="273.2" y="1808.3" width="41.0" height="4.8" fill="#fff" stroke="#000" stroke-width="3.6"/>
<rect x="273.2" y="1813.1" width="41.0" height="2.4" fill="#fff" stroke="#000" stroke-width="3.6"/>
<rect x="273.2" y="1815.5" width="41.0" height="3.1" fill="#fff" stroke="#000" stroke-width="3.6"/>
<rect x="396.0" y="1210.6" width="41.0" height="154.0" fill="#fff" stroke="#000" stroke-width="3.6"/>
<rect x="396.0" y="1364.6" width="41.0" height="134.0" fill="#fff" stroke="#000" stroke-width="3.6"/>
<rect x="396.0" y="1498.6" width="41.0" height="114.1" fill="#fff" stroke="#000" stroke-width="3.6"/>
<rect x="396.0" y="1612.7" width="41.0" height="54.9" fill="#fff" stroke="#000" stroke-width="3.6"/>
<rect x="396.0" y="1667.6" width="41.0" height="33.6" fill="#fff" stroke="#000" stroke-width="3.6"/>
<rect x="396.0" y="1701.2" width="41.0" height="24.5" fill="#fff" stroke="#000" stroke-width="3.6"/>
<rect x="396.0" y="1725.7" width="41.0" height="35.7" fill="#fff" stroke="#000" stroke-width="3.6"/>
<rect x="396.0" y="1761.4" width="41.0" height="8.9" fill="#fff" stroke="#000" stroke-width="3.6"/>
<rect x="396.0" y="1770.3" width="41.0" height="9.7" fill="#fff" stroke="#000" stroke-width="3.6"/>
<rect x="396.0" y="1780.0" width="41.0" height="9.7" fill="#fff" stroke="#000" stroke-width="3.6"/>
<rect x="396.0" y="1789.7" width="41.0" height="2.3" fill="#fff" stroke="#000" stroke-width="3.6"/>
<rect x="396.0" y="1792.0" width="41.0" height="4.6" fill="#fff" stroke="#000" stroke-width="3.6"/>
<rect x="396.0" y="1796.6" width="41.0" height="1.6" fill="#fff" stroke="#000" stroke-width="3.6"/>
<rect x="396.0" y="1798.2" width="41.0" height="4.4" fill="#fff" stroke="#000" stroke-width="3.6"/>
<rect x="396.0" y="1802.6" width="41.0" height="2.9" fill="#fff" stroke="#000" stroke-width="3.6"/>
<rect x="396.0" y="1805.5" width="41.0" height="3.0" fill="#fff" stroke="#000" stroke-width="3.6"/>
<rect x="396.0" y="1808.5" width="41.0" height="3.0" fill="#fff" stroke="#000" stroke-width="3.6"/>
<rect x="396.0" y="1811.5" width="41.0" height="3.5" fill="#fff" stroke="#000" stroke-width="3.6"/>
<rect x="396.0" y="1815.0" width="41.0" height="3.6" fill="#fff" stroke="#000" stroke-width="3.6"/>
<rect x="518.8" y="1223.5" width="41.0" height="154.9" fill="#fff" stroke="#000" stroke-width="3.6"/>
<rect x="518.8" y="1378.4" width="41.0" height="55.1" fill="#fff" stroke="#000" stroke-width="3.6"/>
<rect x="518.8" y="1433.5" width="41.0" height="54.2" fill="#fff" stroke="#000" stroke-width="3.6"/>
<rect x="518.8" y="1487.7" width="41.0" height="34.4" fill="#fff" stroke="#000" stroke-width="3.6"/>
<rect x="518.8" y="1522.1" width="41.0" height="36.5" fill="#fff" stroke="#000" stroke-width="3.6"/>
<rect x="518.8" y="1558.6" width="41.0" height="37.2" fill="#fff" stroke="#000" stroke-width="3.6"/>
<rect x="518.8" y="1595.8" width="41.0" height="33.2" fill="#fff" stroke="#000" stroke-width="3.6"/>
<rect x="518.8" y="1629.0" width="41.0" height="25.1" fill="#fff" stroke="#000" stroke-width="3.6"/>
<rect x="518.8" y="1654.1" width="41.0" height="10.6" fill="#fff" stroke="#000" stroke-width="3.6"/>
<rect x="518.8" y="1664.7" width="41.0" height="12.1" fill="#fff" stroke="#000" stroke-width="3.6"/>
<rect x="518.8" y="1676.8" width="41.0" height="13.0" fill="#fff" stroke="#000" stroke-width="3.6"/>
<rect x="518.8" y="1689.8" width="41.0" height="12.9" fill="#fff" stroke="#000" stroke-width="3.6"/>
<rect x="518.8" y="1702.7" width="41.0" height="8.1" fill="#fff" stroke="#000" stroke-width="3.6"/>
<rect x="518.8" y="1710.8" width="41.0" height="10.5" fill="#fff" stroke="#000" stroke-width="3.6"/>
<rect x="518.8" y="1721.3" width="41.0" height="10.6" fill="#fff" stroke="#000" stroke-width="3.6"/>
<rect x="518.8" y="1731.9" width="41.0" height="10.5" fill="#fff" stroke="#000" stroke-width="3.6"/>
<rect x="518.8" y="1742.4" width="41.0" height="10.5" fill="#fff" stroke="#000" stroke-width="3.6"/>
<rect x="518.8" y="1752.9" width="41.0" height="2.1" fill="#fff" stroke="#000" stroke-width="3.6"/>
<rect x="518.8" y="1755.0" width="41.0" height="1.8" fill="#fff" stroke="#000" stroke-width="3.6"/>
<rect x="518.8" y="1756.8" width="41.0" height="5.1" fill="#fff" stroke="#000" stroke-width="3.6"/>
<rect x="518.8" y="1762.0" width="41.0" height="2.5" fill="#fff" stroke="#000" stroke-width="3.6"/>
<rect x="518.8" y="1764.5" width="41.0" height="3.0" fill="#fff" stroke="#000" stroke-width="3.6"/>
<rect x="518.8" y="1767.5" width="41.0" height="3.0" fill="#fff" stroke="#000" stroke-width="3.6"/>
<rect x="518.8" y="1770.5" width="41.0" height="3.0" fill="#fff" stroke="#000" stroke-width="3.6"/>
<rect x="518.8" y="1773.5" width="41.0" height="4.2" fill="#fff" stroke="#000" stroke-width="3.6"/>
<rect x="518.8" y="1777.7" width="41.0" height="2.8" fill="#fff" stroke="#000" stroke-width="3.6"/>
<rect x="518.8" y="1780.5" width="41.0" height="3.0" fill="#fff" stroke="#000" stroke-width="3.6"/>
<rect x="518.8" y="1783.5" width="41.0" height="3.0" fill="#fff" stroke="#000" stroke-width="3.6"/>
<rect x="518.8" y="1786.5" width="41.0" height="3.0" fill="#fff" stroke="#000" stroke-width="3.6"/>
<rect x="518.8" y="1789.5" width="41.0" height="3.0" fill="#fff" stroke="#000" stroke-width="3.6"/>
<rect x="518.8" y="1792.5" width="41.0" height="3.0" fill="#fff" stroke="#000" stroke-width="3.6"/>
<rect x="518.8" y="1795.5" width="41.0" height="3.0" fill="#fff" stroke="#000" stroke-width="3.6"/>
<rect x="518.8" y="1798.5" width="41.0" height="3.0" fill="#fff" stroke="#000" stroke-width="3.6"/>
<rect x="518.8" y="1801.5" width="41.0" height="3.0" fill="#fff" stroke="#000" stroke-width="3.6"/>
<rect x="518.8" y="1804.5" width="41.0" height="3.0" fill="#fff" stroke="#000" stroke-width="3.6"/>
<rect x="518.8" y="1807.5" width="41.0" height="3.0" fill="#fff" stroke="#000" stroke-width="3.6"/>
<rect x="518.8" y="1810.5" width="41.0" height="3.0" fill="#fff" stroke="#000" stroke-width="3.6"/>
<rect x="518.8" y="1813.5" width="41.0" height="5.1" fill="#fff" stroke="#000" stroke-width="3.6"/>
<rect x="131.9" y="1109.6" width="447.4" height="741.3" fill="none" stroke="#333333" stroke-width="2.2"/>
<line x1="118.9" y1="1818.0" x2="131.9" y2="1818.0" stroke="#333333" stroke-width="3.8"/>
<text x="110" y="1828.3" font-size="29.4" fill="#4D4D4D" text-anchor="end">0</text>
<line x1="118.9" y1="1589.6" x2="131.9" y2="1589.6" stroke="#333333" stroke-width="3.8"/>
<text x="110" y="1599.9" font-size="29.4" fill="#4D4D4D" text-anchor="end">1000</text>
<line x1="118.9" y1="1361.1" x2="131.9" y2="1361.1" stroke="#333333" stroke-width="3.8"/>
<text x="110" y="1371.4" font-size="29.4" fill="#4D4D4D" text-anchor="end">2000</text>
<line x1="118.9" y1="1132.7" x2="131.9" y2="1132.7" stroke="#333333" stroke-width="3.8"/>
<text x="110" y="1143.0" font-size="29.4" fill="#4D4D4D" text-anchor="end">3000</text>
<line x1="171.0" y1="1850.9" x2="171.0" y2="1863.9" stroke="#333333" stroke-width="3.8"/>
<text transform="translate(185.5,1886.9) rotate(-45)" font-size="29.4" fill="#4D4D4D" text-anchor="end">Phylum</text>
<line x1="293.8" y1="1850.9" x2="293.8" y2="1863.9" stroke="#333333" stroke-width="3.8"/>
<text transform="translate(308.2,1886.9) rotate(-45)" font-size="29.4" fill="#4D4D4D" text-anchor="end">Class</text>
<line x1="416.5" y1="1850.9" x2="416.5" y2="1863.9" stroke="#333333" stroke-width="3.8"/>
<text transform="translate(431.0,1886.9) rotate(-45)" font-size="29.4" fill="#4D4D4D" text-anchor="end">Order</text>
<line x1="539.2" y1="1850.9" x2="539.2" y2="1863.9" stroke="#333333" stroke-width="3.8"/>
<text transform="translate(553.8,1886.9) rotate(-45)" font-size="29.4" fill="#4D4D4D" text-anchor="end">Family</text>
<text transform="translate(34,1480.2) rotate(-90)" font-size="29.25" fill="#000" text-anchor="middle">Frequency within Aquiviventia</text>
<text x="355.6" y="1976.5" font-size="29" fill="#000" text-anchor="middle">Actinobacteria taxon</text>
<text x="-1" y="1115.7" font-size="29.3" font-weight="bold" fill="#000">c</text>
<text x="648" y="1149.3" font-size="29.3" font-weight="bold" fill="#000">Family</text>
<rect x="651.1" y="1169.3" width="23.6" height="23.4" fill="#BAA6A5"/>
<text x="692" y="1190.8" font-size="29" fill="#000">Streptomycetaceae</text>
<rect x="651.1" y="1198.4" width="23.6" height="23.4" fill="#CDDBC6"/>
<text x="692" y="1219.9" font-size="29" fill="#000">Microbacteriaceae</text>
<rect x="651.1" y="1227.4" width="23.6" height="23.4" fill="#937A87"/>
<text x="692" y="1248.9" font-size="29" fill="#000">Mycobacteriaceae</text>
<rect x="651.1" y="1256.5" width="23.6" height="23.4" fill="#7CCDE8"/>
<text x="692" y="1278.0" font-size="29" fill="#000">Pseudonocardiaceae</text>
<rect x="651.1" y="1285.6" width="23.6" height="23.4" fill="#7A95A3"/>
<text x="692" y="1307.1" font-size="29" fill="#000">Micromonosporaceae</text>
<rect x="651.1" y="1314.6" width="23.6" height="23.4" fill="#76BDB0"/>
<text x="692" y="1336.1" font-size="29" fill="#000">Nocardioidaceae</text>
<rect x="651.1" y="1343.7" width="23.6" height="23.4" fill="#9A8B7C"/>
<text x="692" y="1365.2" font-size="29" fill="#000">Nocardiaceae</text>
<rect x="651.1" y="1372.8" width="23.6" height="23.4" fill="#FDD77A"/>
<text x="692" y="1394.3" font-size="29" fill="#000">Micrococcaceae</text>
<rect x="651.1" y="1401.9" width="23.6" height="23.4" fill="#D9FCF3"/>
<text x="692" y="1423.4" font-size="29" fill="#000">Streptosporangiaceae</text>
<rect x="651.1" y="1430.9" width="23.6" height="23.4" fill="#D2BADF"/>
<text x="692" y="1452.4" font-size="29" fill="#000">Thermomonosporaceae</text>
<rect x="651.1" y="1460.0" width="23.6" height="23.4" fill="#E27B9B"/>
<text x="692" y="1481.5" font-size="29" fill="#000">Corynebacteriaceae</text>
<rect x="651.1" y="1489.1" width="23.6" height="23.4" fill="#D8D4CF"/>
<text x="692" y="1510.6" font-size="29" fill="#000">Propionibacteriaceae</text>
<rect x="651.1" y="1518.1" width="23.6" height="23.4" fill="#DDFFC8"/>
<text x="692" y="1539.6" font-size="29" fill="#000">Actinomycetaceae</text>
<rect x="651.1" y="1547.2" width="23.6" height="23.4" fill="#7D887F"/>
<text x="692" y="1568.7" font-size="29" fill="#000">Ornithinimicrobiaceae</text>
<rect x="651.1" y="1576.3" width="23.6" height="23.4" fill="#6F9AD2"/>
<text x="692" y="1597.8" font-size="29" fill="#000">Frankiaceae</text>
<rect x="651.1" y="1605.3" width="23.6" height="23.4" fill="#B078B0"/>
<text x="692" y="1626.8" font-size="29" fill="#000">Cellulomonadaceae</text>
<rect x="651.1" y="1634.4" width="23.6" height="23.4" fill="#7DD8A4"/>
<text x="692" y="1655.9" font-size="29" fill="#000">Bifidobacteriaceae</text>
<rect x="651.1" y="1663.5" width="23.6" height="23.4" fill="#F5DDF8"/>
<text x="692" y="1685.0" font-size="29" fill="#000">Nocardiopsaceae</text>
<rect x="651.1" y="1692.6" width="23.6" height="23.4" fill="#9EAFB4"/>
<text x="692" y="1714.1" font-size="29" fill="#000">Geodermatophilaceae</text>
<rect x="651.1" y="1721.6" width="23.6" height="23.4" fill="#D8B7AC"/>
<text x="692" y="1743.1" font-size="29" fill="#000">Gordoniaceae</text>
<rect x="651.1" y="1750.7" width="23.6" height="23.4" fill="#B4BED2"/>
<text x="692" y="1772.2" font-size="29" fill="#000">Brevibacteriaceae</text>
<rect x="651.1" y="1779.8" width="23.6" height="23.4" fill="#B8C4AD"/>
<text x="692" y="1801.3" font-size="29" fill="#000">Intrasporangiaceae</text>
<rect x="651.1" y="1808.8" width="23.6" height="23.4" fill="#BBA2B5"/>
<text x="692" y="1830.3" font-size="29" fill="#000">Dermabacteraceae</text>
<rect x="1016.2" y="1169.3" width="23.6" height="23.4" fill="#FDE3C4"/>
<text x="1056.5" y="1190.8" font-size="29" fill="#000">Iamiaceae</text>
<rect x="1016.2" y="1198.4" width="23.6" height="23.4" fill="#FFC0C8"/>
<text x="1056.5" y="1219.9" font-size="29" fill="#000">Jiangellaceae</text>
<rect x="1016.2" y="1227.4" width="23.6" height="23.4" fill="#E09ED0"/>
<text x="1056.5" y="1248.9" font-size="29" fill="#000">Miltoncostaeaceae</text>
<rect x="1016.2" y="1256.5" width="23.6" height="23.4" fill="#D8DAA2"/>
<text x="1056.5" y="1278.0" font-size="29" fill="#000">Rubrobacteraceae</text>
<rect x="1016.2" y="1285.6" width="23.6" height="23.4" fill="#9EAE9E"/>
<text x="1056.5" y="1307.1" font-size="29" fill="#000">Dermatophilaceae</text>
<rect x="1016.2" y="1314.6" width="23.6" height="23.4" fill="#79B8EE"/>
<text x="1056.5" y="1336.1" font-size="29" fill="#000">Dermacoccaceae</text>
<rect x="1016.2" y="1343.7" width="23.6" height="23.4" fill="#BCAD9E"/>
<text x="1056.5" y="1365.2" font-size="29" fill="#000">Bogoriellaceae</text>
<rect x="1016.2" y="1372.8" width="23.6" height="23.4" fill="#999B97"/>
<text x="1056.5" y="1394.3" font-size="29" fill="#000">Dietziaceae</text>
<rect x="1016.2" y="1401.9" width="23.6" height="23.4" fill="#D9D0DE"/>
<text x="1056.5" y="1423.4" font-size="29" fill="#000">Atopobiaceae</text>
<rect x="1016.2" y="1430.9" width="23.6" height="23.4" fill="#79CFD0"/>
<text x="1056.5" y="1452.4" font-size="29" fill="#000">Kribbellaceae</text>
<rect x="1016.2" y="1460.0" width="23.6" height="23.4" fill="#9E9094"/>
<text x="1056.5" y="1481.5" font-size="29" fill="#000">Eggerthellaceae</text>
<rect x="1016.2" y="1489.1" width="23.6" height="23.4" fill="#CADCDB"/>
<text x="1056.5" y="1510.6" font-size="29" fill="#000">Sanguibacteraceae</text>
<rect x="1016.2" y="1518.1" width="23.6" height="23.4" fill="#A8A18C"/>
<text x="1056.5" y="1539.6" font-size="29" fill="#000">Promicromonosporaceae</text>
<rect x="1016.2" y="1547.2" width="23.6" height="23.4" fill="#80F8E6"/>
<text x="1056.5" y="1568.7" font-size="29" fill="#000">Catenulisporaceae</text>
<rect x="1016.2" y="1576.3" width="23.6" height="23.4" fill="#D7A5AC"/>
<text x="1056.5" y="1597.8" font-size="29" fill="#000">Sporichthyaceae</text>
<rect x="1016.2" y="1605.3" width="23.6" height="23.4" fill="#98CC78"/>
<text x="1056.5" y="1626.8" font-size="29" fill="#000">Kineosporiaceae</text>
<rect x="1016.2" y="1634.4" width="23.6" height="23.4" fill="#E5D3D3"/>
<text x="1056.5" y="1655.9" font-size="29" fill="#000">Actinopolymorphaceae</text>
<rect x="1016.2" y="1663.5" width="23.6" height="23.4" fill="#8AB47E"/>
<text x="1056.5" y="1685.0" font-size="29" fill="#000">Conexibacteraceae</text>
<rect x="1016.2" y="1692.6" width="23.6" height="23.4" fill="#B57EF0"/>
<text x="1056.5" y="1714.1" font-size="29" fill="#000">Egibacteraceae</text>
<rect x="1016.2" y="1721.6" width="23.6" height="23.4" fill="#CFA896"/>
<text x="1056.5" y="1743.1" font-size="29" fill="#000">Beutenbergiaceae</text>
<rect x="1016.2" y="1750.7" width="23.6" height="23.4" fill="#B07A90"/>
<text x="1056.5" y="1772.2" font-size="29" fill="#000">Ruaniaceae</text>
<rect x="1016.2" y="1779.8" width="23.6" height="23.4" fill="#C09080"/>
<text x="1056.5" y="1801.3" font-size="29" fill="#000">Jonesiaceae</text>
</svg></body></html>
